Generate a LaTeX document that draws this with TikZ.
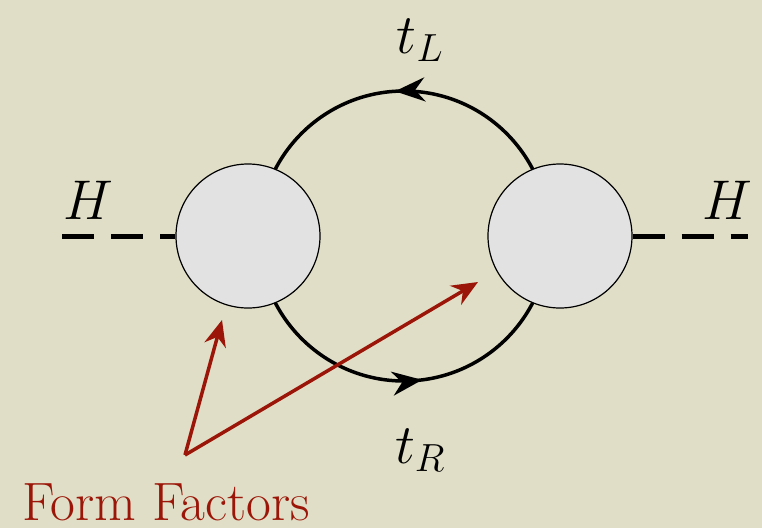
\RequirePackage{fix-cm}
\documentclass[tikz,border=0pt]{standalone}
\usetikzlibrary{arrows.meta,decorations.markings}
\definecolor{bg}{RGB}{224,222,198}
\definecolor{blobfill}{RGB}{226,226,226}
\definecolor{ffred}{RGB}{155,22,8}
\tikzset{
  blob/.style={circle,draw=black,line width=1.2pt,fill=blobfill,minimum size=144pt,inner sep=0pt},
  higgs/.style={line width=5pt,dash pattern=on 32pt off 17pt},
  fermion/.style={line width=3.5pt},
  ffarrow/.style={draw=ffred,line width=3.5pt,-{Stealth[length=26pt,width=22pt]}},
  lbl/.style={font=\fontsize{56}{64}\selectfont},
}
\begin{document}
\begin{tikzpicture}[x=1pt,y=-1pt]
\fill[bg] (0,0) rectangle (762,528);
\useasboundingbox (0,0) rectangle (762,528);
\coordinate (loopc) at (404,236);
\draw[fermion,postaction={decorate},decoration={markings,
  mark=at position 0.26 with {\arrow{Stealth[length=30pt,width=24pt]}},
  mark=at position 0.77 with {\arrow{Stealth[length=30pt,width=24pt]}}}]
  (loopc) ++(0:145) arc[start angle=0,end angle=-360,radius=145];
\coordinate (hl) at (62,236);
\coordinate (hr) at (748,236);
\node[blob] (bl) at (248,236) {};
\node[blob] (br) at (560,236) {};
\draw[higgs] (hl) -- (bl.west);
\draw[higgs] (br.east) -- (hr);
\node[lbl] (H1) at (88,200) {$H$};
\node[lbl] (H2) at (727,200) {$H$};
\node[lbl] (tL) at (420,40) {$t_L$};
\node[lbl] (tR) at (420,450) {$t_R$};
\coordinate (ffo) at (185,455);
\coordinate (ffa) at (222,320);
\coordinate (ffb) at (478,282);
\draw[ffarrow] (ffo) -- (ffa);
\draw[ffarrow] (ffo) -- (ffb);
\node[text=ffred,inner sep=0pt,font=\fontsize{54}{62}\selectfont] (ff) at (166,502) {Form Factors};
\end{tikzpicture}
\end{document}
